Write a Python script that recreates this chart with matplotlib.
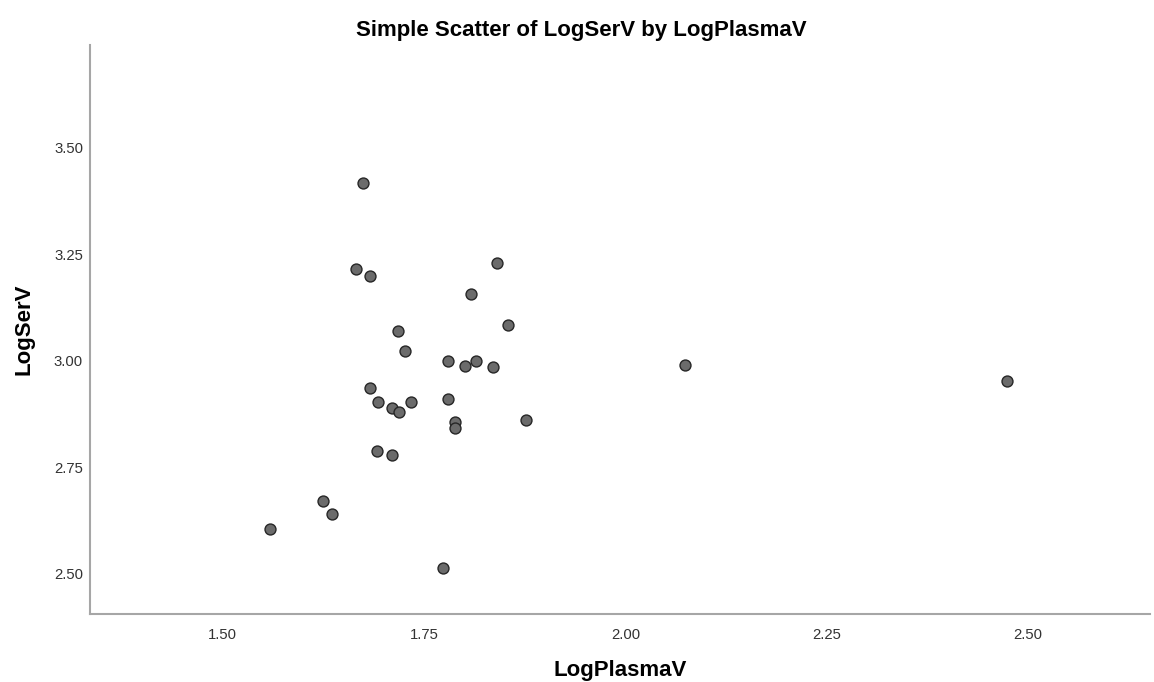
import matplotlib
matplotlib.use("Agg")
import matplotlib.pyplot as plt

# LogPlasmaV / LogSerV pairs
log_plasma_v = [1.674, 1.665, 1.683, 1.841, 1.808, 1.718, 1.854, 1.726,
                1.780, 1.801, 1.815, 1.835, 1.683, 1.693, 1.710, 1.719,
                1.734, 1.780, 1.788, 1.788, 1.877, 1.692, 1.710, 1.625,
                1.636, 1.558, 1.773, 2.074, 2.474]
log_ser_v = [3.417, 3.215, 3.199, 3.229, 3.157, 3.070, 3.084, 3.023,
             2.999, 2.988, 3.000, 2.985, 2.935, 2.902, 2.889, 2.879,
             2.902, 2.911, 2.856, 2.842, 2.861, 2.789, 2.779, 2.671,
             2.641, 2.605, 2.514, 2.990, 2.952]

x_ticks = [1.50, 1.75, 2.00, 2.25, 2.50]
y_ticks = [2.50, 2.75, 3.00, 3.25, 3.50]

plt.rcParams['font.family'] = ['Liberation Sans', 'DejaVu Sans']

fig = plt.figure(figsize=(11.54, 6.82), dpi=100)
ax = fig.add_axes([90 / 1154, 68 / 682, 1060 / 1154, 569 / 682])

ax.scatter(log_plasma_v, log_ser_v, s=62, color="#6b6b6b",
           edgecolors="#262626", linewidths=1.0, zorder=3)

ax.set_xlim(1.335, 2.6516)
ax.set_ylim(2.406, 3.740)
ax.set_xticks(x_ticks)
ax.set_xticklabels(["%.2f" % v for v in x_ticks])
ax.set_yticks(y_ticks)
ax.set_yticklabels(["%.2f" % v for v in y_ticks])

ax.tick_params(axis="x", length=0, pad=10, labelsize=10.7, labelcolor="#333333")
ax.tick_params(axis="y", length=0, pad=5, labelsize=10.7, labelcolor="#333333")

for side in ["top", "right"]:
    ax.spines[side].set_visible(False)
for side in ["left", "bottom"]:
    ax.spines[side].set_color("#a6a6a6")
    ax.spines[side].set_linewidth(1.5)

# x label sits low near the bottom edge
ax.set_xlabel("LogPlasmaV", fontsize=16, fontweight="bold", labelpad=13)
ax.set_ylabel("LogSerV", fontsize=16, fontweight="bold", labelpad=14)

fig.text(581 / 1154, 1 - 36 / 682, "Simple Scatter of LogSerV by LogPlasmaV",
         ha="center", va="baseline", fontsize=16, fontweight="bold")

fig.savefig("out.png", dpi=100)
